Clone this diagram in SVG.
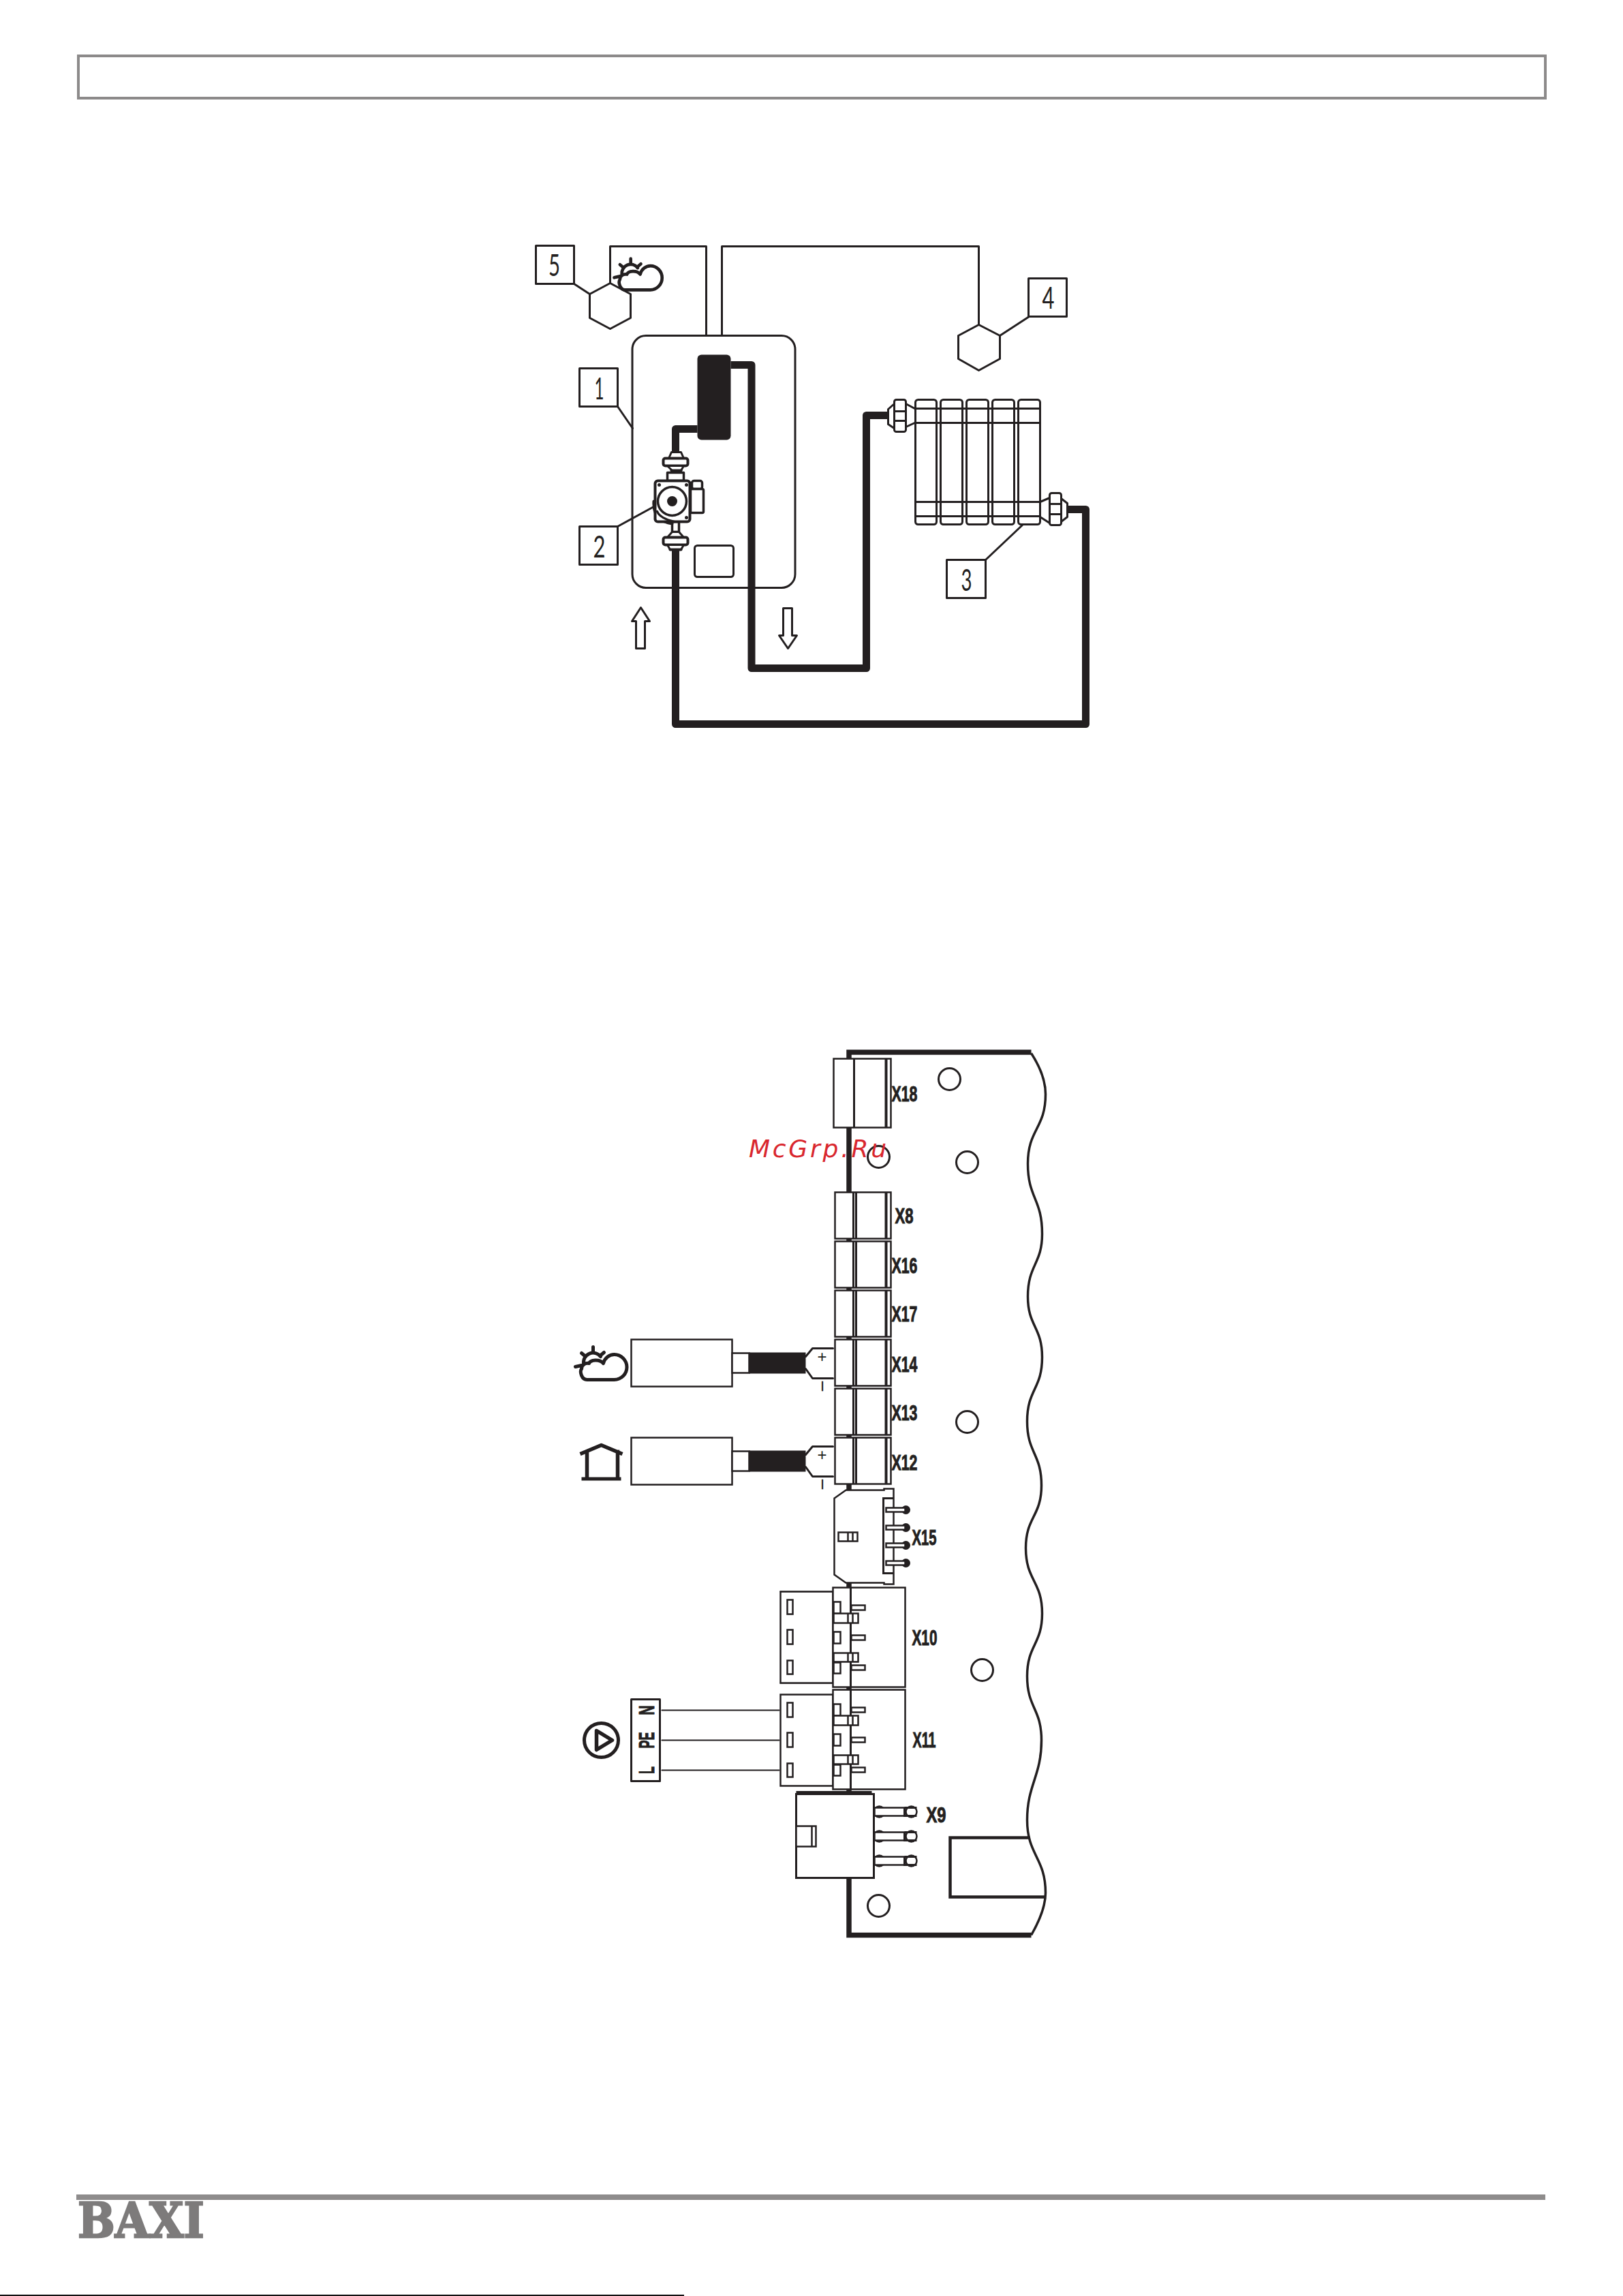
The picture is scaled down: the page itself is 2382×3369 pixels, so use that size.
<svg xmlns="http://www.w3.org/2000/svg" xmlns:xlink="http://www.w3.org/1999/xlink" width="2382" height="3369" viewBox="0 0 2382 3369">
<style>
.l{fill:none;stroke:#231f20;stroke-width:3;stroke-linejoin:round;stroke-linecap:round}
.w{fill:#fff;stroke:#231f20;stroke-width:3;stroke-linejoin:round}
.t{fill:#fff;stroke:#231f20;stroke-width:2.5}
.h{fill:none;stroke:#231f20;stroke-width:3}
.pipe{fill:none;stroke:#231f20;stroke-width:11;stroke-linejoin:round}
.ink{fill:#231f20;stroke:none}
.num{font-family:"Lato","Liberation Sans",sans-serif;font-weight:400;font-size:44px;fill:#231f20;text-anchor:middle}
.x{font-family:"Liberation Sans",Arial,sans-serif;font-weight:700;font-size:32px;fill:#231f20;stroke:#231f20;stroke-width:1}
.pm{font-family:"Liberation Sans",Arial,sans-serif;font-size:24px;fill:#231f20;text-anchor:middle}
</style>
<defs>
<g id="sun-cloud">
<path class="l" style="stroke-width:5" d="M852 2008C852 2002 858 1999 863 2000C865 1995 878 1993 884 2000C886 1992 893 1987 900 1987A18.500 18.500 0 0 1 900 2024H860C852 2024 849 2012 852 2008"/>
<path class="l" style="stroke-width:5" d="M855 2000A14 14 0 0 1 880 1990"/>
<path class="l" style="stroke-width:5" d="M869 1976V1984M852 1985L858 1990M885 1984L879 1989M843 2005L852 2003"/>
</g>
<g id="term">
<rect class="t" x="1224" y="0" width="82" height="68"/>
<path class="h" d="M1251 0V68M1255 0V68"/>
<path class="h" style="stroke-width:4" d="M1299 0V68"/>
</g>
<g id="fork">
<rect class="t" x="925" y="0" width="148" height="69"/>
<rect class="t" x="1073" y="20" width="25" height="29"/>
<rect class="ink" x="1098" y="19" width="83" height="31"/>
<path class="l" d="M1181 25L1191 13H1221M1181 43L1191 57H1221"/>
<text class="pm" x="1205" y="33">+</text>
<text class="pm" style="font-size:30px" transform="translate(1215 68.500) rotate(-90)">−</text>
</g>
<g id="hdr">
<rect class="t" x="1221" y="0" width="106" height="146"/>
<path class="h" d="M1247 0V146"/>
<path class="t" d="M1222 21H1232V38H1222Z"/>
<path class="t" d="M1222 38H1258V52H1222ZM1243 38V52M1250 38V52"/>
<path class="t" d="M1222 65H1232V82H1222Z"/>
<path class="t" d="M1222 96H1258V109H1222ZM1243 96V109M1250 96V109"/>
<path class="t" d="M1222 110H1232V126H1222Z"/>
<rect class="t" x="1248" y="26" width="20" height="7"/>
<rect class="t" x="1248" y="70" width="20" height="7"/>
<rect class="t" x="1248" y="114" width="20" height="7"/>
</g>
<g id="plug">
<rect class="t" x="1144" y="0" width="77" height="134"/>
<rect class="t" x="1154" y="12" width="8" height="21"/>
<rect class="t" x="1154" y="56" width="8" height="21"/>
<rect class="t" x="1154" y="101" width="8" height="20"/>
</g>
<g id="pin15">
<circle class="ink" cx="1328" cy="0" r="6.500"/>
<rect class="t" x="1299" y="-3" width="28" height="6"/>
</g>
<g id="pin9">
<circle class="t" cx="1289" cy="0" r="8"/>
<circle class="t" cx="1336" cy="0" r="8"/>
<rect class="t" x="1282" y="-6" width="44" height="12"/>
<path class="h" d="M1326 -6V6H1344M1326 -6H1344"/>
</g>
</defs>
<rect width="2382" height="3369" fill="#fff"/>

<g id="header-frame"><rect x="115" y="82" width="2153" height="62" fill="none" stroke="#8c8a8a" stroke-width="4"/></g>

<g id="diagram" transform="translate(1.5 0.5)">
<g id="boiler"><rect class="l" x="926.500" y="492" width="239" height="370" rx="20"/></g>

<g id="connectors">
<path class="l" d="M894 415V361H1035V492"/>
<path class="l" d="M1058 492V361H1435V476"/>
<path class="l" d="M841 416L864 431"/>
<path class="l" d="M1466 492L1509 464"/>
<path class="l" d="M905 596L927 628"/>
<path class="l" d="M905 772L958 743"/>
<path class="l" d="M1445 821L1499 770"/>
<path class="pipe" d="M1071 535H1101.500V980H1270V609H1302"/>
<path class="pipe" d="M990 806V1062H1592V747H1565"/>
<path class="pipe" d="M1022 629H990V662"/>
<path class="l" style="stroke-width:2.200" d="M970 2509H1142M970 2553H1142M970 2597H1142"/>
<path class="l" d="M1144 2335H1221M1144 2469H1221" style="stroke-width:2"/>
</g>

<g id="label-5"><rect class="l" x="785" y="360" width="56" height="56"/><text class="num" x="812" y="404" textLength="17" lengthAdjust="spacingAndGlyphs">5</text></g>
<g id="sensor-5"><path class="l" d="M894 415L924 431V466L894 482L864 466V431Z"/><use xlink:href="#sun-cloud" href="#sun-cloud" transform="translate(116 -1498) scale(.93 .95)"/></g>
<g id="label-1"><rect class="l" x="849" y="540" width="56" height="56"/><text class="num" x="878" y="585" textLength="14" lengthAdjust="spacingAndGlyphs">1</text></g>
<g id="label-2"><rect class="l" x="849" y="772" width="56" height="56"/><text class="num" x="878" y="817" textLength="18" lengthAdjust="spacingAndGlyphs">2</text></g>
<g id="label-3"><rect class="l" x="1388" y="821" width="57" height="56"/><text class="num" x="1417" y="866" textLength="16" lengthAdjust="spacingAndGlyphs">3</text></g>
<g id="label-4"><rect class="l" x="1508" y="408" width="56" height="56"/><text class="num" x="1537" y="452" textLength="18" lengthAdjust="spacingAndGlyphs">4</text></g>
<g id="sensor-4"><path class="l" d="M1435 476L1466 492V526L1435 543L1405 526V492Z"/></g>

<g id="heat-exchanger"><rect class="ink" x="1022" y="520" width="49" height="125" rx="6"/></g>

<g id="pump">
<path class="w" d="M980 672L984 663H998L1002 672Z"/>
<rect class="w" x="972" y="672" width="36" height="11" rx="3" style="stroke-width:4"/>
<path class="w" d="M978 683L985 690H998L1002 683Z"/>
<path class="l" style="stroke-width:4" d="M984 690H998"/>
<rect class="w" x="978" y="693" width="24" height="12" style="stroke-width:3.500"/>
<path class="w" d="M985 765H995V780H985Z" style="stroke-width:3.500"/>
<path class="l" style="stroke-width:4" d="M958 735C957 750 962 765 985 768"/>
<rect class="w" x="960" y="705" width="51" height="60" rx="4" style="stroke-width:4"/>
<path class="l" style="stroke-width:3.500" d="M963 750C966 758 976 762 988 765"/>
<circle class="l" cx="985" cy="735" r="21" style="stroke-width:3.500"/>
<circle class="ink" cx="985" cy="735" r="7.500"/>
<circle class="ink" cx="966" cy="711" r="2.500"/><circle class="ink" cx="1006" cy="711" r="2.500"/><circle class="ink" cx="1006" cy="759" r="2.500"/>
<rect class="w" x="1014" y="705" width="15" height="12" rx="3" style="stroke-width:3.500"/>
<rect class="w" x="1012" y="717" width="19" height="35" rx="2" style="stroke-width:3.500"/>
<path class="w" d="M985 780L978 788H1002L995 780Z"/>
<rect class="w" x="972" y="788" width="36" height="11" rx="3" style="stroke-width:4"/>
<path class="w" d="M978 799L982 806H998L1002 799Z"/>
<path class="l" style="stroke-width:4" d="M982 806H998"/>
</g>
<g id="display"><rect class="l" x="1018" y="800" width="57" height="46" rx="4"/></g>
<g id="arrow-up"><path class="l" d="M939 891L926 911H932V951H945V911H952Z"/></g>
<g id="arrow-down"><path class="l" d="M1148 892H1161V932H1168L1155 951L1142 932H1148Z"/></g>

<g id="radiator">
<rect class="l" x="1342" y="586" width="31" height="183" rx="4"/>
<rect class="l" x="1379" y="586" width="32" height="183" rx="4"/>
<rect class="l" x="1417" y="586" width="32" height="183" rx="4"/>
<rect class="l" x="1455" y="586" width="32" height="183" rx="4"/>
<rect class="l" x="1493" y="586" width="32" height="183" rx="4"/>
<path class="l" d="M1342 599H1525M1342 620H1525M1342 736H1525M1342 757H1525"/>
<rect class="w" x="1311" y="586" width="17" height="47" rx="3"/>
<path class="l" d="M1311 603H1328M1311 617H1328M1311 592L1302 600V622L1311 628M1328 592L1341 599M1328 626L1341 620"/>
<rect class="w" x="1539" y="723" width="17" height="47" rx="3"/>
<path class="l" d="M1539 739H1556M1539 754H1556M1556 731L1565 738V758L1556 765M1539 730L1525 736M1539 767L1525 758"/>
</g>

<g id="board">
<path fill="none" stroke="#231f20" stroke-width="7.500" d="M1512 1543.500H1244.500V2839H1512"/>
<path fill="none" stroke="#231f20" stroke-width="3.500" d="M1512 1545C1525 1565 1533 1585 1533 1605C1533 1656 1507 1656 1507 1707C1507 1758 1528 1758 1528 1810C1528 1855 1507 1855 1507 1902C1507 1946 1528 1946 1528 1991C1528 2038 1506 2038 1506 2085C1506 2132 1527 2132 1527 2179C1527 2225 1504 2225 1504 2271C1504 2319 1528 2319 1528 2367C1528 2413 1506 2413 1506 2459C1506 2506 1527 2506 1527 2553C1527 2606 1506 2618 1506 2670C1506 2722 1533 2725 1533 2777C1533 2800 1520 2825 1512 2839"/>
<circle class="l" cx="1392" cy="1583" r="16"/>
<circle class="l" cx="1288" cy="1697" r="16"/>
<circle class="l" cx="1418" cy="1705" r="16"/>
<circle class="l" cx="1418" cy="2086" r="16"/>
<circle class="l" cx="1440" cy="2450" r="16"/>
<circle class="l" cx="1288" cy="2796" r="16"/>
<path fill="none" stroke="#231f20" stroke-width="4.500" d="M1510 2696H1393V2783H1533"/>
</g>

<g id="x18">
<rect class="t" x="1222" y="1553" width="84" height="101"/>
<path class="h" d="M1252 1553V1654"/><path class="h" style="stroke-width:4" d="M1299 1553V1654"/>
<text class="x" x="1307" y="1615" textLength="38" lengthAdjust="spacingAndGlyphs">X18</text>
</g>
<g id="x8"><use xlink:href="#term" href="#term" y="1749"/><text class="x" x="1312" y="1794" textLength="27" lengthAdjust="spacingAndGlyphs">X8</text></g>
<g id="x16"><use xlink:href="#term" href="#term" y="1821"/><text class="x" x="1307" y="1867" textLength="38" lengthAdjust="spacingAndGlyphs">X16</text></g>
<g id="x17"><use xlink:href="#term" href="#term" y="1893"/><text class="x" x="1307" y="1938" textLength="38" lengthAdjust="spacingAndGlyphs">X17</text></g>
<g id="x14"><use xlink:href="#term" href="#term" y="1965"/><text class="x" x="1307" y="2012" textLength="38" lengthAdjust="spacingAndGlyphs">X14</text></g>
<g id="x13"><use xlink:href="#term" href="#term" y="2037"/><text class="x" x="1307" y="2083" textLength="38" lengthAdjust="spacingAndGlyphs">X13</text></g>
<g id="x12"><use xlink:href="#term" href="#term" y="2109"/><text class="x" x="1307" y="2156" textLength="38" lengthAdjust="spacingAndGlyphs">X12</text></g>

<g id="outdoor-sensor"><use xlink:href="#fork" href="#fork" y="1965"/></g>
<g id="outdoor-icon"><use xlink:href="#sun-cloud" href="#sun-cloud"/></g>
<g id="room-sensor"><use xlink:href="#fork" href="#fork" y="2109"/></g>
<g id="room-icon"><path class="l" style="stroke-width:5.500;stroke-linecap:butt" d="M850 2133L881 2120L912 2133M860 2127V2168M905 2127V2168"/><rect class="ink" x="852" y="2167" width="58" height="5"/></g>

<g id="x15">
<path class="t" d="M1223 2198L1240 2186H1296V2184H1310V2324H1296V2322H1240L1223 2310Z"/>
<path class="h" d="M1310 2198H1295V2308H1310"/>
<use xlink:href="#pin15" href="#pin15" y="2215"/><use xlink:href="#pin15" href="#pin15" y="2241"/><use xlink:href="#pin15" href="#pin15" y="2267"/><use xlink:href="#pin15" href="#pin15" y="2293"/>
<path class="t" d="M1229 2248H1257V2261H1229ZM1243 2248V2261M1250 2248V2261"/>
<text class="x" x="1337" y="2266" textLength="36" lengthAdjust="spacingAndGlyphs">X15</text>
</g>
<g id="x10"><use xlink:href="#plug" href="#plug" y="2335"/><use xlink:href="#hdr" href="#hdr" y="2329"/><text class="x" x="1337" y="2413" textLength="37" lengthAdjust="spacingAndGlyphs">X10</text></g>
<g id="x11"><use xlink:href="#plug" href="#plug" y="2486"/><use xlink:href="#hdr" href="#hdr" y="2479"/><text class="x" x="1338" y="2563" textLength="34" lengthAdjust="spacingAndGlyphs">X11</text></g>
<g id="x9">
<path class="h" d="M1167 2629H1278"/>
<rect class="t" x="1167" y="2632" width="114" height="123" style="stroke-width:3"/>
<path class="t" d="M1167 2679H1196V2709H1167ZM1190 2679V2709"/>
<use xlink:href="#pin9" href="#pin9" y="2658"/><use xlink:href="#pin9" href="#pin9" y="2694"/><use xlink:href="#pin9" href="#pin9" y="2730"/>
<text class="x" x="1358" y="2673" textLength="29" lengthAdjust="spacingAndGlyphs">X9</text>
</g>

<g id="pump-terminal">
<rect class="l" x="925" y="2493" width="42" height="120"/>
<text class="x" text-anchor="middle" transform="translate(958 2597) rotate(-90)" textLength="11" lengthAdjust="spacingAndGlyphs">L</text>
<text class="x" text-anchor="middle" transform="translate(958 2553) rotate(-90)" textLength="24" lengthAdjust="spacingAndGlyphs">PE</text>
<text class="x" text-anchor="middle" transform="translate(958 2509) rotate(-90)" textLength="14" lengthAdjust="spacingAndGlyphs">N</text>
</g>
<g id="pump-icon"><circle class="l" cx="881" cy="2553" r="25" style="stroke-width:5"/><path class="l" style="stroke-width:5.500" d="M874 2539L897 2553L874 2567Z"/></g>
</g>

<text id="watermark" x="1099" y="1698" font-family="'DejaVu Sans',sans-serif" font-style="italic" font-size="36" fill="#d9272e" textLength="202">McGrp.Ru</text>

<g id="footer">
<rect x="112" y="3220" width="2156" height="8" fill="#8e8c8c"/>
<text x="114" y="3283" font-family="'DejaVu Serif','Liberation Serif',serif" font-weight="700" font-size="71" fill="#7d7b7b" stroke="#7d7b7b" stroke-width="2.500" textLength="186" lengthAdjust="spacingAndGlyphs">BAXI</text>
<rect x="0" y="3367" width="1004" height="2" fill="#111"/>
</g>
</svg>
